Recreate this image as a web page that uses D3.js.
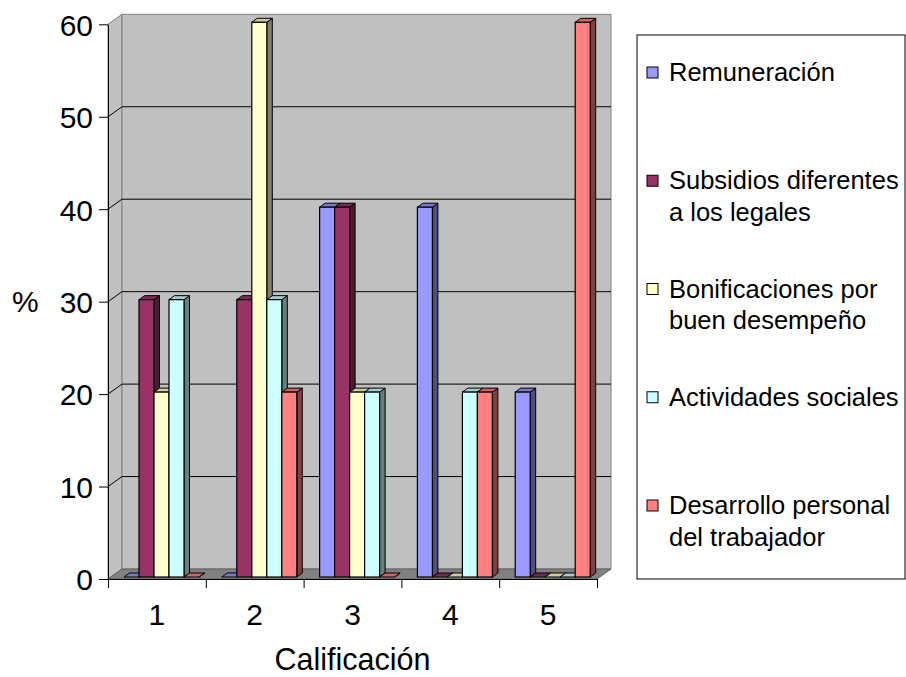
<!DOCTYPE html>
<html>
<head>
<meta charset="utf-8">
<script src="https://cdn.jsdelivr.net/npm/d3@7"></script>
<style>
  html, body { margin: 0; padding: 0; background: #fff; }
  svg { display: block; font-family: "Liberation Sans", Arial, sans-serif; }
</style>
</head>
<body>
<svg id="chart" width="906" height="677"></svg>
<script>
// Rating categories on the x axis
const categories = ["1", "2", "3", "4", "5"];

// Series (benefit types) and their legend text lines
const seriesNames = [
  "Remuneración",
  "Subsidios diferentes a los legales",
  "Bonificaciones por buen desempeño",
  "Actividades sociales",
  "Desarrollo personal del trabajador"
];
const legendLines = [
  ["Remuneración"],
  ["Subsidios diferentes", "a los legales"],
  ["Bonificaciones por", "buen desempeño"],
  ["Actividades sociales"],
  ["Desarrollo personal", "del trabajador"]
];

// Percentages per rating, one array per series
const remuneracion   = [0, 0, 40, 40, 20];
const subsidios      = [30, 30, 40, 0, 0];
const bonificaciones = [20, 60, 20, 0, 0];
const actividades    = [30, 30, 20, 20, 0];
const desarrollo     = [0, 20, 0, 20, 60];
const seriesValues = [remuneracion, subsidios, bonificaciones, actividades, desarrollo];

const seriesColors = ["#9999FF", "#993366", "#FFFFCC", "#CCFFFF", "#FF8080"];

const yTicks = [0, 10, 20, 30, 40, 50, 60];
const yLabel = "%";
const xLabel = "Calificación";

// ---- layout ----
const svg = d3.select("#chart");
const plotLeft = 108, plotRight = 597, plotBottom = 579, plotTop = 24.3;
const depthX = 14, depthY = -10;        // wall depth
const barDX = 5.5, barDY = -4;          // bar depth
const barShiftX = 4.6, barShiftY = -2;  // bars sit a little behind the front plane

const x = d3.scaleBand().domain(categories).range([plotLeft, plotRight]).paddingInner(0).paddingOuter(0);
const inner = d3.scaleBand().domain(seriesNames).range([0, x.bandwidth()]).paddingInner(0).paddingOuter(0.76);
const y = d3.scaleLinear().domain([0, 60]).range([plotBottom, plotTop]);

const g = svg.append("g");

// side wall
g.append("polygon")
  .attr("points", [[plotLeft, y(0)], [plotLeft + depthX, y(0) + depthY], [plotLeft + depthX, y(60) + depthY], [plotLeft, y(60)]].join(" "))
  .attr("fill", "#c0c0c0").attr("stroke", "#808080").attr("stroke-width", 1);

// back wall
g.append("rect")
  .attr("x", plotLeft + depthX).attr("y", y(60) + depthY)
  .attr("width", plotRight - plotLeft).attr("height", y(0) - y(60))
  .attr("fill", "#c0c0c0").attr("stroke", "#808080").attr("stroke-width", 1);

// floor
g.append("polygon")
  .attr("points", [[plotLeft, y(0)], [plotRight, y(0)], [plotRight + depthX, y(0) + depthY], [plotLeft + depthX, y(0) + depthY]].join(" "))
  .attr("fill", "#808080").attr("stroke", "#606060").attr("stroke-width", 1);

// gridlines on back and side walls
const grid = yTicks.filter(v => v > 0 && v < 60);
g.selectAll(".gridBack").data(grid).enter().append("line")
  .attr("x1", plotLeft + depthX).attr("x2", plotRight + depthX)
  .attr("y1", d => y(d) + depthY).attr("y2", d => y(d) + depthY)
  .attr("stroke", "#000").attr("stroke-width", 1);
g.selectAll(".gridSide").data(grid).enter().append("line")
  .attr("x1", plotLeft).attr("x2", plotLeft + depthX)
  .attr("y1", d => y(d)).attr("y2", d => y(d) + depthY)
  .attr("stroke", "#000").attr("stroke-width", 1);

// bars
const bars = g.append("g");
categories.forEach((cat, ci) => {
  seriesNames.forEach((s, si) => {
    const v = seriesValues[si][ci];
    const w = inner.bandwidth();
    const x0 = x(cat) + inner(s) + barShiftX;
    const x1 = x0 + w;
    const yb = y(0) + barShiftY;
    const yt = y(v) + barShiftY;
    const base = d3.rgb(seriesColors[si]);
    const side = d3.rgb(base.r * 0.5, base.g * 0.5, base.b * 0.5);
    const topc = d3.rgb(base.r * 0.8, base.g * 0.8, base.b * 0.8);
    const bg = bars.append("g");
    bg.append("polygon")
      .attr("points", [[x1, yt], [x1 + barDX, yt + barDY], [x1 + barDX, yb + barDY], [x1, yb]].join(" "))
      .attr("fill", side).attr("stroke", "#000").attr("stroke-width", 1).attr("stroke-linejoin", "round");
    bg.append("polygon")
      .attr("points", [[x0, yt], [x0 + barDX, yt + barDY], [x1 + barDX, yt + barDY], [x1, yt]].join(" "))
      .attr("fill", topc).attr("stroke", "#000").attr("stroke-width", 1).attr("stroke-linejoin", "round");
    if (v > 0) {
      bg.append("rect")
        .attr("x", x0).attr("y", yt).attr("width", w).attr("height", yb - yt)
        .attr("fill", base).attr("stroke", "#000").attr("stroke-width", 1.2);
    }
  });
});

// y axis
const yAxis = g.append("g").attr("transform", `translate(${plotLeft},0)`)
  .call(d3.axisLeft(y).tickValues(yTicks).tickSize(9).tickSizeOuter(0).tickPadding(6).tickFormat(d3.format("d")));
yAxis.select(".domain").attr("stroke", "#000");
yAxis.selectAll(".tick line").attr("stroke", "#000");
yAxis.selectAll(".tick text").attr("font-size", 30).attr("fill", "#000")
  .attr("font-family", "'Liberation Sans', Arial, sans-serif").attr("dy", "0.36em");

// x axis: boundary ticks and category labels
const edges = d3.scaleLinear().domain([0, categories.length]).range([plotLeft, plotRight]);
const xTicks = g.append("g").attr("transform", `translate(0,${plotBottom})`)
  .call(d3.axisBottom(edges).ticks(categories.length).tickSize(9).tickSizeOuter(0).tickFormat(""));
xTicks.select(".domain").attr("stroke", "#000");
xTicks.selectAll(".tick line").attr("stroke", "#000");

const xAxis = g.append("g").attr("transform", `translate(0,${plotBottom})`)
  .call(d3.axisBottom(x).tickSize(0).tickPadding(0));
xAxis.select(".domain").remove();
xAxis.selectAll(".tick text").attr("font-size", 30).attr("fill", "#000")
  .attr("font-family", "'Liberation Sans', Arial, sans-serif")
  .attr("y", 46).attr("dy", 0);

// axis titles
svg.append("text").attr("x", 12).attr("y", 312).attr("font-size", 30).text(yLabel);
svg.append("text").attr("x", (plotLeft + plotRight) / 2).attr("y", 670)
  .attr("text-anchor", "middle").attr("font-size", 30.5).text(xLabel);

// legend
const legend = svg.append("g");
legend.append("rect").attr("x", 637).attr("y", 35).attr("width", 268).attr("height", 544)
  .attr("fill", "#fff").attr("stroke", "#000").attr("stroke-width", 1);
const rowY = d3.scalePoint().domain(seriesNames).range([72, 505]);
seriesNames.forEach((s, i) => {
  const cy = rowY(s);
  legend.append("rect").attr("x", 647).attr("y", cy - 5).attr("width", 11).attr("height", 11)
    .attr("fill", seriesColors[i]).attr("stroke", "#000").attr("stroke-width", 1);
  const t = legend.append("text").attr("x", 669).attr("y", cy + 9).attr("font-size", 25.5).attr("fill", "#000");
  legendLines[i].forEach((line, li) => {
    t.append("tspan").attr("x", 669).attr("dy", li === 0 ? 0 : 31.5).text(line);
  });
});
</script>
</body>
</html>
